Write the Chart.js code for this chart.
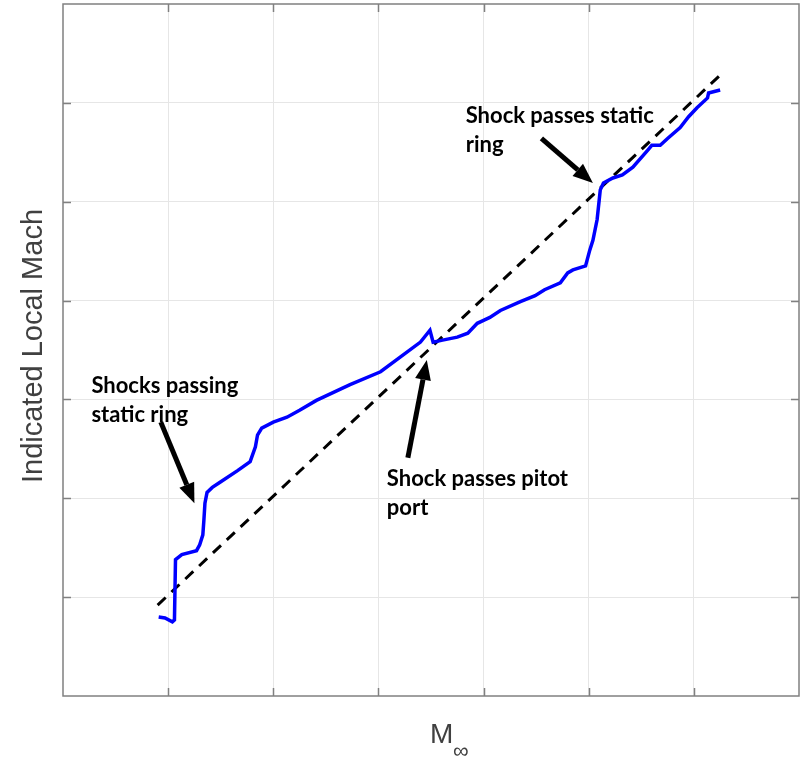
<!DOCTYPE html>
<html>
<head>
<meta charset="utf-8">
<script src="https://cdn.jsdelivr.net/npm/chart.js@4.4.1/dist/chart.umd.min.js"></script>
<style>
  html, body { margin: 0; padding: 0; background: #fff; }
  #wrap { width: 800px; height: 762px; position: relative; }
</style>
</head>
<body>
<div id="wrap"><canvas id="chart"></canvas></div>
<script>
// Indicated local Mach vs free-stream Mach (axis units, 0..7)
const measuredX = [0.91, 0.97, 1.04, 1.06, 1.07, 1.13, 1.27, 1.30, 1.33, 1.34, 1.35, 1.37, 1.42, 1.49, 1.66,
  1.78, 1.83, 1.85, 1.89, 2.00, 2.13, 2.25, 2.41, 2.73, 3.02, 3.21, 3.40, 3.49, 3.52, 3.61, 3.75, 3.85, 3.94,
  4.00, 4.06, 4.16, 4.35, 4.49, 4.58, 4.73, 4.80, 4.85, 4.97, 5.01, 5.04, 5.08, 5.10, 5.11, 5.14, 5.23, 5.32,
  5.42, 5.56, 5.60, 5.68, 5.75, 5.87, 5.95, 6.03, 6.13, 6.14, 6.25];
const measuredY = [0.80, 0.79, 0.75, 0.77, 1.38, 1.43, 1.47, 1.53, 1.63, 1.78, 1.95, 2.06, 2.11, 2.16, 2.28,
  2.37, 2.52, 2.64, 2.71, 2.77, 2.82, 2.89, 2.99, 3.15, 3.28, 3.43, 3.58, 3.70, 3.58, 3.60, 3.63, 3.67, 3.77,
  3.80, 3.83, 3.90, 3.99, 4.05, 4.11, 4.18, 4.28, 4.31, 4.35, 4.51, 4.61, 4.82, 5.02, 5.12, 5.19, 5.24, 5.27,
  5.35, 5.52, 5.57, 5.57, 5.64, 5.75, 5.86, 5.95, 6.05, 6.10, 6.13];
const idealX = [0.90, 6.24];
const idealY = [0.92, 6.27];

const axisTicks = [1, 2, 3, 4, 5, 6];

// notes: text anchored at data position, arrow from -> to
const notes = [
  { lines: ['Shocks passing', 'static ring'], x: 0.27, y: 3.07 },
  { lines: ['Shock passes pitot', 'port'], x: 3.08, y: 2.12 },
  { lines: ['Shock passes static', 'ring'], x: 3.83, y: 5.80 }
];
const arrows = [
  { from: [0.93, 2.77], to: [1.25, 1.95] },
  { from: [3.28, 2.41], to: [3.46, 3.40] },
  { from: [4.55, 5.64], to: [5.04, 5.19] }
];

const toPts = (xs, ys) => xs.map((x, i) => ({ x, y: ys[i] }));

// frame box, inward ticks, notes and arrows (MATLAB look)
const decorPlugin = {
  id: 'decor',
  afterDatasetsDraw(chart) {
    const { ctx, chartArea: a, scales: { x, y } } = chart;
    ctx.save();

    // arrows
    ctx.fillStyle = '#000';
    ctx.strokeStyle = '#000';
    arrows.forEach(ar => {
      const x0 = x.getPixelForValue(ar.from[0]), y0 = y.getPixelForValue(ar.from[1]);
      const x1 = x.getPixelForValue(ar.to[0]), y1 = y.getPixelForValue(ar.to[1]);
      const ang = Math.atan2(y1 - y0, x1 - x0);
      const head = 20, half = 8;
      const bx = x1 - head * Math.cos(ang), by = y1 - head * Math.sin(ang);
      ctx.lineWidth = 5;
      ctx.beginPath();
      ctx.moveTo(x0, y0);
      ctx.lineTo(bx, by);
      ctx.stroke();
      ctx.beginPath();
      ctx.moveTo(x1, y1);
      ctx.lineTo(bx + half * Math.sin(ang), by - half * Math.cos(ang));
      ctx.lineTo(bx - half * Math.sin(ang), by + half * Math.cos(ang));
      ctx.closePath();
      ctx.fill();
    });

    // notes
    ctx.font = 'bold 22px Lato, "Open Sans", sans-serif';
    ctx.textBaseline = 'alphabetic';
    ctx.textAlign = 'left';
    notes.forEach(n => {
      const px = x.getPixelForValue(n.x), py = y.getPixelForValue(n.y);
      n.lines.forEach((t, i) => ctx.fillText(t, px, py + i * 29));
    });

    // frame + inward ticks
    ctx.strokeStyle = '#808080';
    ctx.lineWidth = 1.5;
    ctx.strokeRect(a.left, a.top, a.right - a.left, a.bottom - a.top);
    ctx.beginPath();
    axisTicks.forEach(v => {
      const px = Math.round(x.getPixelForValue(v)) + 0.5;
      ctx.moveTo(px, a.bottom); ctx.lineTo(px, a.bottom - 8);
      ctx.moveTo(px, a.top); ctx.lineTo(px, a.top + 8);
      const py = Math.round(y.getPixelForValue(v)) + 0.5;
      ctx.moveTo(a.left, py); ctx.lineTo(a.left + 8, py);
      ctx.moveTo(a.right, py); ctx.lineTo(a.right - 8, py);
    });
    ctx.stroke();

    // axis titles
    ctx.fillStyle = '#404040';
    ctx.font = '29px "Liberation Sans", Arial, sans-serif';
    ctx.textAlign = 'center';
    ctx.textBaseline = 'middle';
    ctx.save();
    ctx.translate(34, (a.top + a.bottom) / 2 - 4);
    ctx.rotate(-Math.PI / 2);
    ctx.fillText('Indicated Local Mach', 0, 0);
    ctx.restore();
    ctx.textAlign = 'left';
    ctx.textBaseline = 'alphabetic';
    ctx.font = '28px "Liberation Sans", Arial, sans-serif';
    ctx.fillText('M', 430, 743);
    ctx.font = '22px "Liberation Sans", Arial, sans-serif';
    ctx.fillText('\u221E', 453, 758);

    ctx.restore();
  }
};

const gridColor = (c) => (c.tick && (c.tick.value === 0 || c.tick.value === 7)) ? 'rgba(0,0,0,0)' : '#e6e6e6';

new Chart(document.getElementById('chart'), {
  type: 'scatter',
  data: {
    datasets: [
      {
        label: 'Indicated',
        data: toPts(measuredX, measuredY),
        showLine: true,
        borderColor: '#0000ff',
        borderWidth: 3.5,
        pointRadius: 0,
        tension: 0
      },
      {
        label: 'Ideal',
        data: toPts(idealX, idealY),
        showLine: true,
        borderColor: '#000',
        borderWidth: 3,
        borderDash: [11, 8],
        pointRadius: 0
      }
    ]
  },
  options: {
    responsive: true,
    maintainAspectRatio: false,
    animation: false,
    layout: { padding: { left: 63, top: 4, right: 1, bottom: 66 } },
    plugins: { legend: { display: false }, tooltip: { enabled: false } },
    scales: {
      x: {
        type: 'linear', min: 0, max: 7,
        ticks: { display: false, stepSize: 1 },
        grid: { color: gridColor, drawTicks: false, lineWidth: 1 },
        border: { display: false }
      },
      y: {
        type: 'linear', min: 0, max: 7,
        ticks: { display: false, stepSize: 1 },
        grid: { color: gridColor, drawTicks: false, lineWidth: 1 },
        border: { display: false }
      }
    }
  },
  plugins: [decorPlugin]
});
</script>
</body>
</html>
